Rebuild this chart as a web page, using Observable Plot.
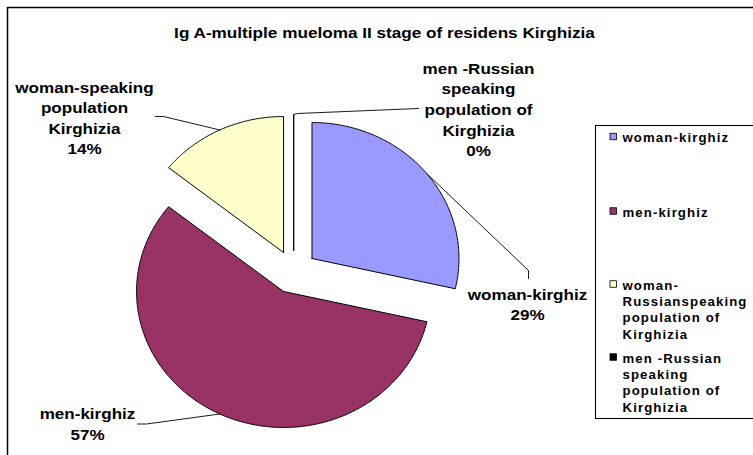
<!DOCTYPE html>
<html><head><meta charset="utf-8">
<script src="https://cdn.jsdelivr.net/npm/d3@7"></script>
<script src="https://cdn.jsdelivr.net/npm/@observablehq/plot@0.6"></script>
<style>html,body{margin:0;padding:0;background:#fff;overflow:hidden}</style>
</head><body><div id="chart"></div>
<script>
// ---- data ----
const chartTitle = "Ig A-multiple mueloma II stage of residens Kirghizia";
const categories = ["woman-kirghiz", "men-kirghiz", "woman-Russianspeaking", "men-Russian"];
const values = [2, 4, 1, 0];
const dataLabelNames = ["woman-kirghiz", "men-kirghiz", "woman-speaking\npopulation\nKirghizia", "men -Russian\nspeaking\npopulation of\nKirghizia"];
const legendLabels = ["woman-kirghiz", "men-kirghiz", "woman-\nRussianspeaking\npopulation of\nKirghizia", "men -Russian\nspeaking\npopulation of\nKirghizia"];
const sliceColors = ["#9999FF", "#993366", "#FFFFCC", "#000000"];

// ---- layout ----
const W = 753, H = 455;
const cx = 293.2, cy = 271.5, rx = 147, ry = 136, explode = 0.159;
const total = d3.sum(values);
const percentLabels = values.map(v => Math.round(v / total * 100) + "%");

let cum = 0;
const slices = values.map((v, i) => {
  const a0 = cum / total * 2 * Math.PI; cum += v;
  const a1 = cum / total * 2 * Math.PI;
  const mid = (a0 + a1) / 2;
  const vx = cx + explode * rx * Math.sin(mid), vy = cy - explode * ry * Math.cos(mid);
  return {cat: categories[i], a0, a1, mid, vx, vy, ox: vx + rx * Math.sin(mid), oy: vy - ry * Math.cos(mid)};
});
const slicePts = [];
slices.forEach(s => {
  slicePts.push({cat: s.cat, x: s.vx, y: s.vy});
  const n = Math.max(1, Math.ceil((s.a1 - s.a0) / 0.01));
  for (let k = 0; k <= n; k++) {
    const a = s.a0 + (s.a1 - s.a0) * k / n;
    slicePts.push({cat: s.cat, x: s.vx + rx * Math.sin(a), y: s.vy - ry * Math.cos(a)});
  }
  slicePts.push({cat: s.cat, x: s.vx, y: s.vy});
});

// data label placement (label centre, leader knee points)
const labelPos = [
  {x: 527, y: 303, knee: [[528, 278], [528, 270]]},
  {x: 87, y: 422.5, knee: [[137, 423.5], [146, 423.5]]},
  {x: 84, y: 116.5, knee: [[155, 116], [163, 116]]},
  {x: 478, y: 108, knee: [[418, 108], [297, 113]]}
];
const labels = slices.map((s, i) => ({cat: s.cat, x: labelPos[i].x, y: labelPos[i].y, text: dataLabelNames[i] + "\n" + percentLabels[i]}));
const leaders = [];
slices.forEach((s, i) => {
  labelPos[i].knee.forEach(p => leaders.push({cat: s.cat, x: p[0], y: p[1]}));
  leaders.push({cat: s.cat, x: s.ox, y: s.oy});
});

const legendFirstY = [136.5, 211, 284, 357];
const legendLH = 16.3;
const legendRows = categories.map((c, i) => {
  const n = legendLabels[i].split("\n").length;
  return {cat: c, label: legendLabels[i], y0: legendFirstY[i], yc: legendFirstY[i] + (n - 1) * legendLH / 2};
});

const chart = Plot.plot({
  width: W, height: H, margin: 0,
  x: {domain: [0, W], range: [0, W], axis: null},
  y: {domain: [0, H], range: [0, H], axis: null},
  color: {domain: categories, range: sliceColors},
  style: {fontFamily: "'Liberation Sans', Arial, sans-serif", background: "white", color: "black"},
  marks: [
    // outer chart border (only top/left visible in the crop)
    Plot.rect([0], {x1: () => 7.5, y1: () => 7.5, x2: () => 800, y2: () => 500, fill: "none", stroke: "black", strokeWidth: 1.5}),
    Plot.text([chartTitle], {x: () => 384, y: () => 32.3, text: d => d, fontSize: 15.4, fontWeight: "bold", fill: "black"}),
    // slices
    Plot.line(slicePts, {x: "x", y: "y", z: "cat", fill: "cat", stroke: "black", strokeWidth: 1, curve: "linear", strokeLinejoin: "miter"}),
    // leader lines
    Plot.line(leaders, {x: "x", y: "y", z: "cat", stroke: "black", strokeWidth: 0.9, curve: "linear"}),
    Plot.text(labels, {x: "x", y: "y", text: "text", fontSize: 15.5, fontWeight: "bold", lineHeight: 20.6 / 15.5, lineAnchor: "middle", textAnchor: "middle", fill: "black"}),
    // legend
    Plot.rect([0], {x1: () => 595.5, y1: () => 125.5, x2: () => 800, y2: () => 418.5, fill: "white", stroke: "black", strokeWidth: 1.1}),
    Plot.rect(legendRows, {x1: () => 610, x2: () => 616.5, y1: d => d.y0 - 3.25, y2: d => d.y0 + 3.25, fill: "cat", stroke: "black", strokeWidth: 0.8}),
    Plot.text(legendRows, {x: () => 622, y: "yc", text: "label", fontSize: 12, fontWeight: "bold", lineHeight: legendLH / 12, lineAnchor: "middle", textAnchor: "start", fill: "black"})
  ]
});

// horizontal glyph stretch + letter spacing per text group (keyed by font size)
const textStyle = {"15.4": {k: 1.115, ls: 0}, "15.5": {k: 1.1, ls: 0}, "12": {k: 1.1, ls: 1.0}};
chart.querySelectorAll("g[font-size]").forEach(g => {
  const st = textStyle[g.getAttribute("font-size")];
  if (!st) return;
  if (st.ls) g.setAttribute("letter-spacing", st.ls);
  g.querySelectorAll("text").forEach(t => {
    const tr = t.getAttribute("transform") || "";
    t.setAttribute("transform", tr + ` scale(${st.k},1)`);
  });
});
document.getElementById("chart").appendChild(chart);
</script>
</body></html>
